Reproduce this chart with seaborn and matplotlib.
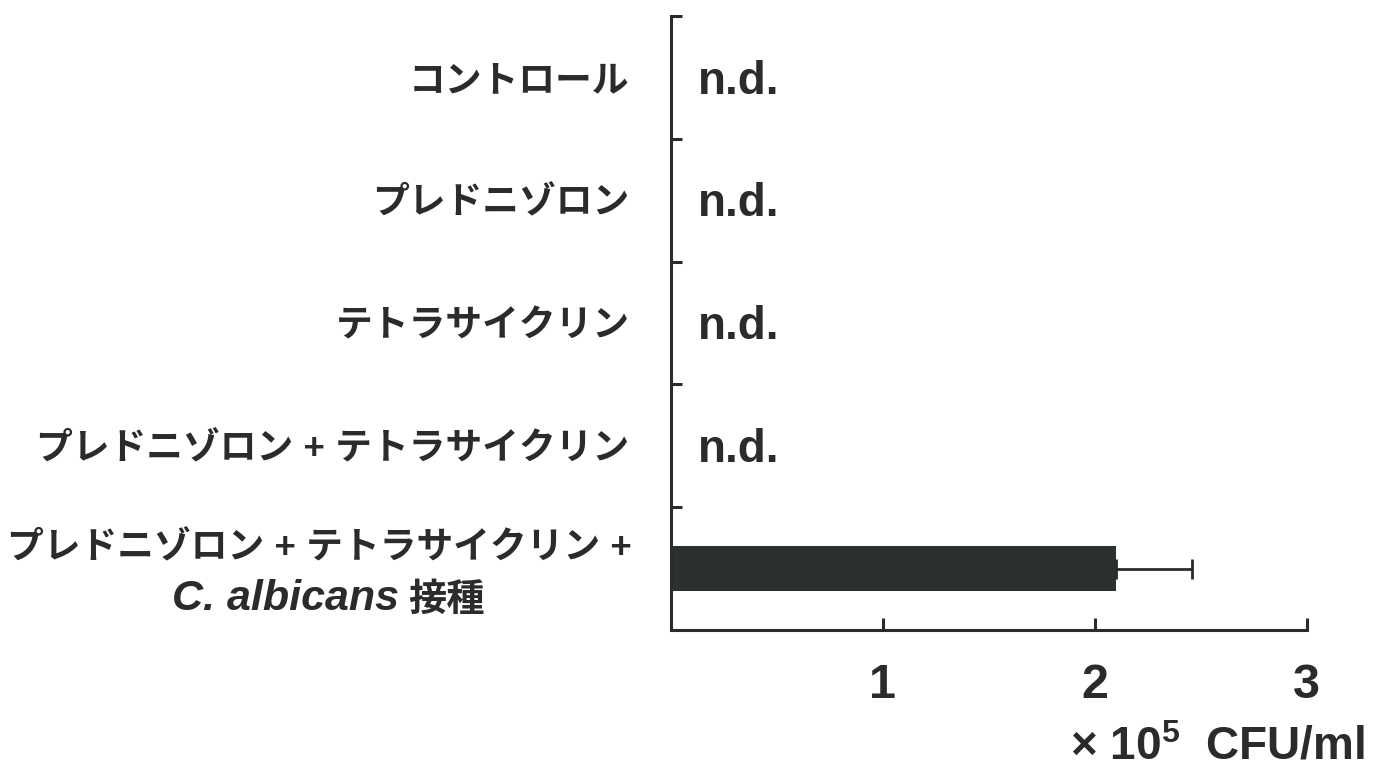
import matplotlib
matplotlib.use("Agg")
import matplotlib.pyplot as plt
import seaborn as sns
import pandas as pd

# ---- data ----
categories = [
    "コントロール",
    "プレドニゾロン",
    "テトラサイクリン",
    "プレドニゾロン + テトラサイクリン",
    "プレドニゾロン + テトラサイクリン + C. albicans 接種",
]
tick_labels = [
    "コントロール",
    "プレドニゾロン",
    "テトラサイクリン",
    "プレドニゾロン + テトラサイクリン",
    "",
]
last_line1 = "プレドニゾロン + テトラサイクリン +"
last_species = "C. albicans"
last_suffix = "接種"
values = [0.0, 0.0, 0.0, 0.0, 2.1]
errors = [0.0, 0.0, 0.0, 0.0, 0.36]
detected = [False, False, False, False, True]
nd_text = "n.d."
xticks = [1, 2, 3]
xlabel = r"× 10$^{5}$  CFU/ml"

# ---- style ----
sns.set_theme(style="white")
plt.rcParams["font.family"] = ["Liberation Sans", "Noto Sans CJK JP"]
plt.rcParams["font.weight"] = "bold"
plt.rcParams["mathtext.fontset"] = "custom"
plt.rcParams["mathtext.rm"] = "Liberation Sans:bold"
plt.rcParams["mathtext.it"] = "Liberation Sans:italic:bold"
plt.rcParams["mathtext.bf"] = "Liberation Sans:bold"

ink = "#2b2b2b"
bar_color = "#2d312d"
jp_size = 26.5

df = pd.DataFrame({"category": categories, "value": values})

fig = plt.figure(figsize=(13.74, 7.80), dpi=100)
ax = fig.add_axes([0.4884, 0.1923, 0.4627, 0.7872])

sns.barplot(data=df, x="value", y="category", orient="h", order=categories,
            color=bar_color, width=0.37, errorbar=None, linewidth=0,
            saturation=1, ax=ax)

for i, (v, e, d) in enumerate(zip(values, errors, detected)):
    if d:
        ax.errorbar(v, i, xerr=[[0], [e]], fmt="none", ecolor=ink,
                    elinewidth=2.0, capsize=7, capthick=2.0, zorder=1)
    else:
        ax.annotate(nd_text, xy=(0, i), xytext=(19, -3), textcoords="offset points",
                    ha="left", va="center", fontsize=33, fontweight="bold",
                    color=ink, family=["Liberation Sans"])

ax.set_xlim(0, 3)
ax.set_ylim(len(categories) - 0.5, -0.5)

# ticks
ax.set_xticks(xticks)
ax.set_xticklabels([str(t) for t in xticks])
ax.tick_params(axis="x", which="major", bottom=True, direction="in", length=9,
               width=2.2, color=ink, labelsize=35, labelcolor=ink, pad=24)
ax.set_yticks(range(len(categories)))
ax.set_yticklabels(tick_labels)
ax.tick_params(axis="y", which="major", length=0, labelsize=jp_size,
               labelcolor=ink, pad=30)
ax.set_yticks([i - 0.5 for i in range(len(categories))], minor=True)
ax.tick_params(axis="y", which="minor", left=True, direction="in", length=8,
               width=2.2, color=ink)

for lab in ax.get_xticklabels() + ax.get_yticklabels():
    lab.set_fontweight("bold")

# last two-line label
n = len(categories) - 1
ax.annotate(last_line1, xy=(0, n), xytext=(-28, 14), textcoords="offset points",
            ha="right", va="center", fontsize=jp_size, fontweight="bold", color=ink,
            annotation_clip=False)
ax.annotate(last_species, xy=(0, n), xytext=(-196, -22), textcoords="offset points",
            ha="right", va="center", fontsize=31, fontweight="bold",
            style="italic", color=ink, family=["Liberation Sans"],
            annotation_clip=False)
ax.annotate(last_suffix, xy=(0, n), xytext=(-134, -22), textcoords="offset points",
            ha="right", va="center", fontsize=jp_size + 1, fontweight="bold", color=ink,
            family=["Noto Sans CJK JP"], annotation_clip=False)

# x label
ax.set_xlabel(xlabel, fontsize=33, fontweight="bold", color=ink,
              ha="right", va="center")
ax.xaxis.set_label_coords(1.091, -0.192)
ax.set_ylabel("")

# spines
sns.despine(ax=ax, top=True, right=True)
for s in ("left", "bottom"):
    ax.spines[s].set_color(ink)
    ax.spines[s].set_linewidth(2.2)

fig.savefig("out.png", dpi=100, facecolor="white")
